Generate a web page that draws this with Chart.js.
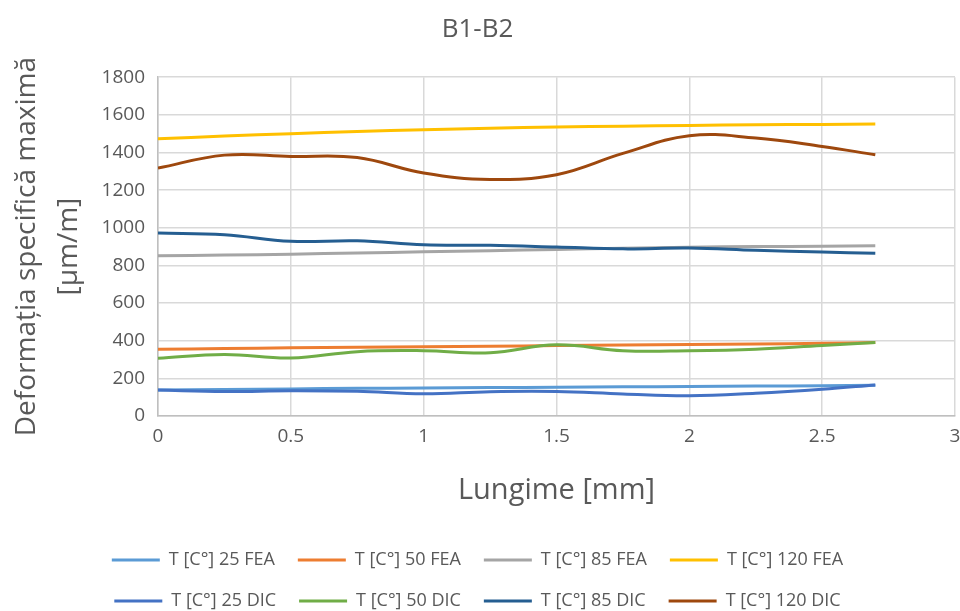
<!DOCTYPE html>
<html>
<head>
<meta charset="utf-8">
<script src="https://cdn.jsdelivr.net/npm/chart.js@4.4.1/dist/chart.umd.min.js"></script>
<style>
  html, body { margin: 0; padding: 0; background: #ffffff; }
  #wrap { width: 960px; height: 611px; position: relative; }
</style>
</head>
<body>
<div id="wrap"><canvas id="c"></canvas></div>
<script>
// ---- data ----
const xValues = [0, 0.25, 0.5, 0.75, 1, 1.25, 1.5, 1.75, 2, 2.25, 2.5, 2.7];

const fea25  = [138, 141, 144, 147, 149, 151, 153, 155, 157, 159, 161, 163];
const fea50  = [355, 358, 362, 365, 368, 371, 374, 377, 380, 383, 386, 390];
const fea85  = [851, 855, 860, 866, 872, 878, 885, 891, 897, 900, 902, 904];
const fea120 = [1473, 1487, 1500, 1511, 1521, 1529, 1535, 1540, 1544, 1547, 1549, 1551];

const dic25  = [138, 130, 134, 131, 118, 129, 130, 117, 108, 121, 142, 165];
const dic50  = [307, 327, 308, 342, 347, 336, 378, 347, 347, 355, 375, 390];
const dic85  = [972, 963, 928, 931, 910, 907, 898, 888, 892, 880, 871, 865];
const dic120 = [1317, 1386, 1379, 1373, 1291, 1257, 1282, 1395, 1489, 1477, 1432, 1388];

const seriesLabels = [
  "T [C°] 25 FEA", "T [C°] 50 FEA", "T [C°] 85 FEA", "T [C°] 120 FEA",
  "T [C°] 25 DIC", "T [C°] 50 DIC", "T [C°] 85 DIC", "T [C°] 120 DIC"
];
const seriesValues = [fea25, fea50, fea85, fea120, dic25, dic50, dic85, dic120];
const seriesColors = ["#5B9BD5", "#ED7D31", "#A5A5A5", "#FFC000", "#4472C4", "#70AD47", "#255E91", "#9E480E"];

const chartTitle = "B1-B2";
const xTitle = "Lungime [mm]";
const yTitle = ["Deformația specifică maximă", "[µm/m]"];

const textColor = "#595959";
const FONT = "'Open Sans', 'Liberation Sans', sans-serif";

const datasets = seriesLabels.map((lab, i) => ({
  label: lab,
  data: xValues.map((x, k) => ({ x: x, y: seriesValues[i][k] })),
  borderColor: seriesColors[i],
  backgroundColor: seriesColors[i],
  borderWidth: 3,
  pointRadius: 0,
  pointHoverRadius: 0,
  tension: 0.4,
  fill: false,
  order: i < 4 ? 1 : 0
}));

new Chart(document.getElementById("c"), {
  type: "line",
  data: { datasets: datasets },
  options: {
    responsive: true,
    maintainAspectRatio: false,
    animation: false,
    layout: { padding: { left: 0, right: 5, top: 0, bottom: -9 } },
    plugins: {
      title: {
        display: true,
        text: chartTitle,
        color: textColor,
        font: { family: FONT, size: 26, weight: "normal", lineHeight: 1.2 },
        padding: { top: 14, bottom: 32 }
      },
      legend: {
        position: "bottom",
        labels: {
          color: textColor,
          font: { family: FONT, size: 18 },
          boxWidth: 48,
          boxHeight: 3,
          padding: 23,
          sort: (a, b) => a.datasetIndex - b.datasetIndex,
          generateLabels: (chart) =>
            Chart.defaults.plugins.legend.labels.generateLabels(chart).map(l =>
              Object.assign(l, { lineWidth: 0, fillStyle: l.strokeStyle }))
        }
      },
      tooltip: { enabled: false }
    },
    scales: {
      x: {
        type: "linear",
        min: 0,
        max: 3,
        ticks: {
          stepSize: 0.5,
          color: textColor,
          font: { family: FONT, size: 19 },
          padding: 9,
          maxRotation: 0,
          callback: (v) => String(v)
        },
        grid: { color: "#D9D9D9", lineWidth: 1.5, drawTicks: false },
        border: { color: "#BFBFBF", width: 1.5 },
        title: {
          display: true,
          text: xTitle,
          color: textColor,
          font: { family: FONT, size: 29 },
          padding: { top: 0, bottom: 20 }
        },
        afterFit: (scale) => { scale.height = 112; scale.paddingRight = 0; scale.paddingLeft = 0; }
      },
      y: {
        type: "linear",
        min: 0,
        max: 1800,
        ticks: {
          stepSize: 200,
          color: textColor,
          font: { family: FONT, size: 19 },
          padding: 13,
          callback: (v) => String(v)
        },
        grid: { color: "#D9D9D9", lineWidth: 1.5, drawTicks: false },
        border: { color: "#BFBFBF", width: 1.5 },
        title: {
          display: true,
          text: yTitle,
          color: textColor,
          font: { family: FONT, size: 28, lineHeight: 1.5 },
          padding: { top: 6, bottom: 0 }
        },
        afterFit: (scale) => { scale.width = 158; }
      }
    }
  }
});
</script>
</body>
</html>
